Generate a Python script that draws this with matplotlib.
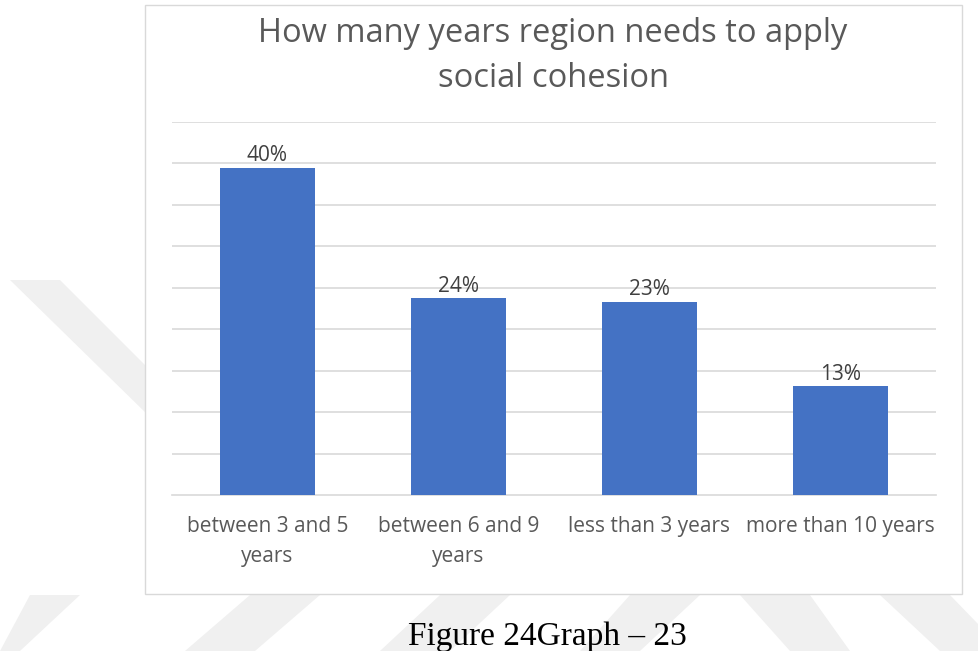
import numpy as np
import matplotlib.pyplot as plt
from matplotlib.patches import Rectangle, Polygon

categories = ['between 3 and 5\nyears', 'between 6 and 9\nyears', 'less than 3 years', 'more than 10 years']
values = [0.394, 0.237, 0.233, 0.131]
labels = ['40%', '24%', '23%', '13%']

W, H = 979, 651
fig = plt.figure(figsize=(W/100, H/100), dpi=100)

def px(x, y):
    return (x/W, 1 - y/H)

# faint watermark shapes in the background
shapes = [
    [(10, 280), (60, 280), (150, 370), (150, 417)],
    [(0, 651), (20, 651), (80, 595), (30, 595)],
    [(185, 651), (255, 651), (320, 595), (250, 595)],
    [(380, 651), (450, 651), (510, 595), (440, 595)],
    [(580, 651), (640, 651), (700, 595), (630, 595)],
    [(740, 595), (810, 595), (850, 651), (790, 651)],
    [(880, 595), (950, 595), (979, 625), (979, 651), (940, 651)],
]
for s in shapes:
    fig.patches.append(Polygon([px(*p) for p in s], closed=True, transform=fig.transFigure,
                               facecolor='#f0f0f0', edgecolor='none', zorder=-2))

# chart frame
x0, y0 = px(145, 594)
x1, y1 = px(962, 5)
fig.patches.append(Rectangle((x0, y0), x1 - x0, y1 - y0, transform=fig.transFigure,
                             facecolor='white', edgecolor='#d9d9d9', linewidth=1, zorder=-1))

l, b = px(172, 495)
r, t = px(936, 121.5)
ax = fig.add_axes([l, b, r - l, t - b])
ax.set_facecolor('none')
ax.set_zorder(2)

x = np.arange(len(categories))
bars = ax.bar(x, values, width=0.5, color='#4472C4', zorder=3)
for xi, v, lab in zip(x, values, labels):
    ax.text(xi, v + 0.002, lab, ha='center', va='bottom', fontsize=15,
            color='#404040', family='Open Sans')

ax.set_xlim(-0.5, 3.5)
ax.set_ylim(0, 0.45)
ax.set_yticks(np.arange(0.05, 0.451, 0.05))
ax.yaxis.grid(True, color='#d9d9d9', linewidth=1.2, zorder=0)
ax.set_yticklabels([])
ax.tick_params(axis='y', length=0)
ax.tick_params(axis='x', length=0, pad=15)
ax.set_xticks(x)
ax.set_xticklabels(categories, fontsize=15, color='#595959', family='Open Sans', linespacing=1.6)
for sp in ['top', 'left', 'right']:
    ax.spines[sp].set_visible(False)
ax.spines['bottom'].set_color('#d9d9d9')
ax.spines['bottom'].set_linewidth(1.2)

fig.text(553/W, 1 - 56/H, 'How many years region needs to apply\nsocial cohesion',
         ha='center', va='center', fontsize=23.5, color='#595959', family='Open Sans',
         linespacing=1.45)

fig.text(547/W, 1 - 637/H, 'Figure 24Graph \u2013 23', ha='center', va='center',
         fontsize=24, color='black', family='Liberation Serif')

fig.savefig('out.png', dpi=100)
